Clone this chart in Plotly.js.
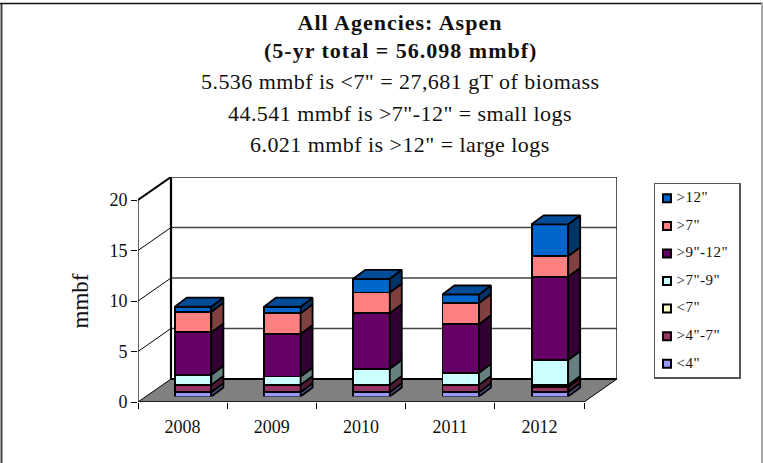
<!DOCTYPE html>
<html><head><meta charset="utf-8">
<script src="https://cdn.plot.ly/plotly-3.0.1.min.js"></script>
<style>html,body{margin:0;padding:0;background:#fff;overflow:hidden}
.annotation-text{letter-spacing:.45px}
tspan[style*="bold"]{letter-spacing:1px}
.gtitle{letter-spacing:1px}
.ytitle{letter-spacing:1.2px}
.textpoint text{letter-spacing:.5px}
.xtick text{letter-spacing:.5px}
</style>
</head><body><div id="chart" style="width:763px;height:463px"></div>
<script>
// ---- data ----
const years = ['2008','2009','2010','2011','2012'];
const seriesNames = ['<4"','>4"-7"','<7"','>7"-9"','>9"-12"','>7"','>12"'];
const lt4   = [0.43,0.43,0.43,0.43,0.44];
const s4to7 = [0.72,0.72,0.72,0.72,0.51];
const lt7   = [0,0,0,0,0.2];
const s7to9 = [1.0,0.83,1.6,1.2,2.46];
const s9to12= [4.2,4.2,5.5,4.8,8.25];
const gt7   = [2.05,2.05,2.05,2.1,2.04];
const gt12  = [0.5,0.66,1.35,0.85,3.15];
const seriesValues = [lt4,s4to7,lt7,s7to9,s9to12,gt7,gt12];
const frontColors = ['#9999FF','#993366','#FFFFCC','#CCFFFF','#660066','#FF8080','#0066CC'];
const sideColors  = ['#4D4D80','#4D1A33','#808066','#668080','#330033','#804040','#003366'];
const topColor = '#004C99';
const yTicks = [0,5,10,15,20];
const titleLines = ['(5-yr total = 56.098 mmbf)','5.536 mmbf is <7" = 27,681 gT of biomass','44.541 mmbf is >7"-12" = small logs','6.021 mmbf is >12" = large logs'];

// ---- geometry ----
const W=763,H=463;
const dx=p=>p/W, dy=p=>1-p/H;
const band=(584-138)/5, unit=(402-200)/20;
const wallDX=33/band, wallDY=23/unit;       // floor/wall depth in axis units
const barDX=12/band, barDY=9/unit;          // bar depth in axis units
const barW=0.41;
const serif='"Liberation Serif","Times New Roman",serif';
const X=[-0.5,4.5];

const traces=[];
const wall=(x,y,fill,lineColor,w)=>traces.push({type:'scatter',mode:'lines',x,y,fill:fill?'toself':'none',fillcolor:fill||undefined,
  line:{color:lineColor,width:w},xaxis:'x',yaxis:'y',cliponaxis:false,hoverinfo:'skip',showlegend:false});
// floor
wall([X[0],X[1],X[1]+wallDX,X[0]+wallDX,X[0]],[0,0,wallDY,wallDY,0],'#808080','#000',1);
// gridlines on the back wall (5,10,15)
{const gx=[],gy=[];
 yTicks.slice(1,4).forEach(v=>{gx.push(X[0]+wallDX,X[1]+wallDX,null);gy.push(v+wallDY,v+wallDY,null);});
 wall(gx,gy,null,'#444',1.3);}
// left wall connecting lines
{const gx=[],gy=[];
 yTicks.slice(1,4).forEach(v=>{gx.push(X[0],X[0]+wallDX,null);gy.push(v,v+wallDY,null);});
 wall(gx,gy,null,'#000',1);}
wall([X[0],X[0]+wallDX],[20,20+wallDY],null,'#000',2);
// back wall frame
wall([X[0]+wallDX,X[0]+wallDX,X[1]+wallDX],[20+wallDY,wallDY,wallDY],null,'#000',2.2);
wall([X[0]+wallDX,X[1]+wallDX],[20+wallDY,20+wallDY],null,'#222',1.6);
wall([X[1]+wallDX,X[1]+wallDX],[wallDY,20+wallDY],null,'#222',1.5);

// stacked bars: front faces
seriesNames.forEach((n,s)=>traces.push({type:'bar',name:n,x:[0,1,2,3,4],y:seriesValues[s],width:barW,
  marker:{color:frontColors[s],line:{color:'#000',width:1.8}},xaxis:'x2',yaxis:'y2',showlegend:false,hoverinfo:'skip'}));
// bar sides and tops
const cum=years.map(()=>0);
seriesNames.forEach((n,s)=>{
  const px=[],py=[];
  years.forEach((yr,i)=>{
    const b=cum[i],t=b+seriesValues[s][i]; cum[i]=t;
    if(seriesValues[s][i]<=0) return;
    const r=i+barW/2;
    px.push(r,r+barDX,r+barDX,r,r,null);
    py.push(b,b+barDY,t+barDY,t,b,null);
  });
  traces.push({type:'scatter',mode:'lines',x:px,y:py,fill:'toself',fillcolor:sideColors[s],line:{color:'#000',width:1.8},
    xaxis:'x2',yaxis:'y2',cliponaxis:false,hoverinfo:'skip',showlegend:false});
});
{const px=[],py=[];
 years.forEach((yr,i)=>{const l=i-barW/2,r=i+barW/2,t=cum[i];
   px.push(l,r,r+barDX,l+barDX,l,null);py.push(t,t,t+barDY,t+barDY,t,null);});
 traces.push({type:'scatter',mode:'lines',x:px,y:py,fill:'toself',fillcolor:topColor,line:{color:'#000',width:1.8},
   xaxis:'x2',yaxis:'y2',cliponaxis:false,hoverinfo:'skip',showlegend:false});}

// legend, top row first
const legRows=seriesNames.map((n,i)=>i);
traces.push({type:'scatter',mode:'markers',x:legRows.map(()=>12),y:legRows,
  marker:{symbol:'square',size:8,color:frontColors,line:{color:'#000',width:2}},xaxis:'x3',yaxis:'y3',hoverinfo:'skip',showlegend:false});
traces.push({type:'scatter',mode:'text',x:legRows.map(()=>21.5),y:legRows,text:seriesNames,textposition:'middle right',
  textfont:{family:serif,size:15,color:'#111'},xaxis:'x3',yaxis:'y3',cliponaxis:false,hoverinfo:'skip',showlegend:false});

// front axes: carries the year and value ticks
traces.push({type:'scatter',mode:'lines',x:[-0.5,-0.5,4.5],y:[20,0,0],line:{color:'#000',width:1.2},
  xaxis:'x4',yaxis:'y4',cliponaxis:false,hoverinfo:'skip',showlegend:false});

const ann=titleLines.map((t,i)=>({text:i===0?'<b>'+t+'</b>':t,xref:'paper',yref:'paper',x:dx(400),y:dy([51,82,113,145][i]),
  xanchor:'center',yanchor:'middle',showarrow:false,font:{family:serif,size:22,color:'#111'}}));

const layout={width:W,height:H,margin:{l:0,r:0,t:0,b:0},paper_bgcolor:'#fff',plot_bgcolor:'rgba(0,0,0,0)',
  barmode:'stack',hovermode:false,showlegend:false,
  title:{text:'<b>All Agencies: Aspen</b>',x:dx(400),xanchor:'center',y:dy(22),yanchor:'middle',font:{family:serif,size:22,color:'#111'}},
  annotations:ann,
  font:{family:serif,color:'#111'},
  xaxis:{domain:[dx(138),dx(617)],range:[X[0],X[1]+wallDX],anchor:'y',visible:false,fixedrange:true},
  yaxis:{domain:[dy(402),dy(177)],range:[0,20+wallDY],anchor:'x',visible:false,fixedrange:true},
  xaxis2:{domain:[dx(148.5),dx(594.5)],range:X,anchor:'y2',visible:false,fixedrange:true},
  yaxis2:{domain:[dy(396.5),dy(194.5)],range:[0,20],anchor:'x2',visible:false,fixedrange:true},
  xaxis3:{domain:[dx(655),dx(739)],range:[0,84],anchor:'y3',showticklabels:false,ticks:'',showgrid:false,zeroline:false,
    showline:true,mirror:true,linecolor:'#555',linewidth:1.5},
  yaxis3:{domain:[dy(377),dy(184)],range:[-0.48,6.52],anchor:'x3',showticklabels:false,ticks:'',showgrid:false,zeroline:false,
    showline:true,mirror:true,linecolor:'#555',linewidth:1.5},
  xaxis4:{domain:[dx(138),dx(584)],range:X,anchor:'y4',tickmode:'array',tickvals:[0,1,2,3,4],ticktext:years,
    ticks:'outside',ticklen:8,tickcolor:'rgba(0,0,0,0)',tickfont:{family:serif,size:18,color:'#111'},
    showgrid:false,zeroline:false,showline:false,
    minor:{tickmode:'array',tickvals:[-0.5,0.5,1.5,2.5,3.5,4.5],ticks:'outside',ticklen:6,tickcolor:'#000',tickwidth:1,showgrid:false}},
  yaxis4:{domain:[dy(402),dy(200)],range:[0,20],anchor:'x4',tickmode:'array',tickvals:yTicks,
    ticks:'outside',ticklen:6,tickcolor:'#000',tickfont:{family:serif,size:18,color:'#111'},
    showgrid:false,zeroline:false,showline:false,
    title:{text:'mmbf',font:{family:serif,size:23,color:'#111'},standoff:14}},
  shapes:[
    {type:'line',xref:'paper',yref:'paper',x0:dx(1.5),x1:dx(1.5),y0:0,y1:dy(3),line:{color:'#444',width:2}},
    {type:'line',xref:'paper',yref:'paper',x0:dx(0),x1:dx(763),y0:dy(3.5),y1:dy(3.5),line:{color:'#111',width:1.6}},
    {type:'line',xref:'paper',yref:'paper',x0:dx(762),x1:dx(762),y0:0,y1:dy(3),line:{color:'#aaa',width:2}}
  ]};
Plotly.newPlot('chart',traces,layout,{displayModeBar:false,staticPlot:true});
</script></body></html>
